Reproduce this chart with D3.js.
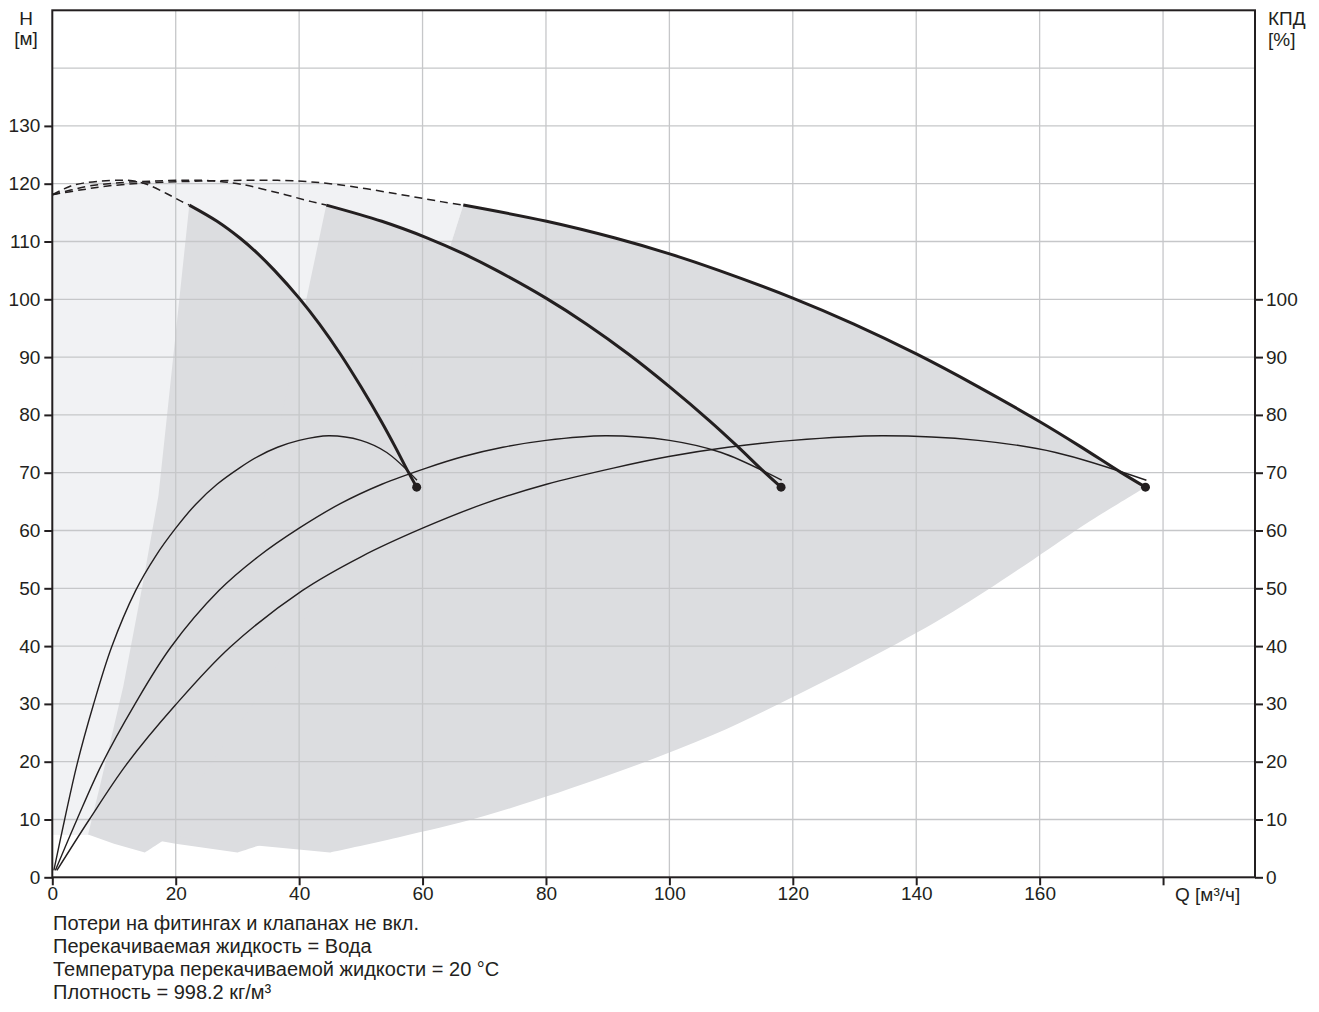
<!DOCTYPE html>
<html><head><meta charset="utf-8">
<script src="https://cdn.jsdelivr.net/npm/d3@7"></script>
<style>
html,body{margin:0;padding:0;background:#fff;}
svg text{font-family:"Liberation Sans",Arial,sans-serif;fill:#231f20;}
</style></head>
<body>
<svg id="chart" width="1319" height="1012"></svg>
<script>
// ---------- data ----------
const qTicks = [0, 20, 40, 60, 80, 100, 120, 140, 160];
const qGrid = [20, 40, 60, 80, 100, 120, 140, 160, 180];
const hTicks = [0, 10, 20, 30, 40, 50, 60, 70, 80, 90, 100, 110, 120, 130];
const hGrid = [10, 20, 30, 40, 50, 60, 70, 80, 90, 100, 110, 120, 130, 140];
const effTicks = [0, 10, 20, 30, 40, 50, 60, 70, 80, 90, 100];
const pumpCounts = [1, 2, 3];

// single pump Q-H curve (m3/h, m); dashed part up to Q = 22.2
const pumpQ = [0, 1.5, 3, 5, 8, 11, 13, 15.3, 18.5, 21, 22.2, 26.7, 30.4, 33.3, 36, 40, 43.3, 46.7, 50, 53.3, 55.5, 57.7, 59.05];
const pumpH = [118.1, 118.9, 119.6, 120.1, 120.45, 120.6, 120.5, 119.9, 118.3, 116.9, 116.3, 113.5, 110.6, 107.9, 105.0, 100.2, 95.7, 90.5, 84.9, 78.9, 74.6, 70.1, 67.5];
const solidStartQ = 22.2;
const endPointH = 67.5;

// single pump efficiency curve (%)
const effQ = [0.25, 2, 4, 6.65, 9.6, 13.5, 16.7, 20, 23.3, 26.7, 30.3, 33.3, 36.5, 40, 44.8, 50, 54.2, 59.1];
const effV = [1.2, 10, 19.5, 29.8, 39.8, 49.6, 55.5, 60.4, 64.6, 68.0, 70.8, 72.8, 74.4, 75.6, 76.4, 75.6, 73.5, 68.7];

// operating zone of single pump: left edge (top -> bottom)
const zoneLeftQ = [22.2, 18.5, 17.2, 14.7, 11.5, 7.7, 5.8];
const zoneLeftH = [116.3, 79, 66, 51, 33, 15.7, 7.4];
// bottom edge (left -> right)
const zoneBottomQ = [5.8, 10, 15];
const zoneBottomH = [7.4, 5.8, 4.3];
// lower-right edge (bottom -> end point)
const zoneRightQ = [15, 18.67, 23.33, 30, 35.67, 40, 44.67, 48.67, 53, 56, 59.05];
const zoneRightH = [4.3, 6.9, 10.6, 17.6, 24.6, 31.2, 38.8, 46, 55, 61.5, 67.5];
const lightBottomH = 7.4;

const notes = [
  "Потери на фитингах и клапанах не вкл.",
  "Перекачиваемая жидкость = Вода",
  "Температура перекачиваемой жидкости = 20 °C",
  "Плотность = 998.2 кг/м³"
];

// ---------- drawing ----------
const svg = d3.select("#chart");
const L = 52.3, R = 1255, T = 10.3, B = 877.3;
const x = d3.scaleLinear().domain([0, 194.9]).range([L, R]);
const y = d3.scaleLinear().domain([0, 150]).range([B, T]);
const ink = "#231f20";
const font = '"Liberation Sans",Arial,sans-serif';

const zip = (a, b) => a.map((v, i) => [v, b[i]]);
const pumpPts = zip(pumpQ, pumpH);
const iSolid = pumpQ.indexOf(solidStartQ);
const dashedPts = pumpPts.slice(0, iSolid + 1);
const solidPts = pumpPts.slice(iSolid);

function curvePath(pts, n) {
  return d3.line().x(d => x(d[0] * n)).y(d => y(d[1])).curve(d3.curveCatmullRom.alpha(0.5))(pts);
}
function linePath(pts, n) {
  return d3.line().x(d => x(d[0] * n)).y(d => y(d[1]))(pts);
}
const asL = s => "L" + s.slice(1);

const gFill = svg.append("g");
// light zones
pumpCounts.forEach(n => {
  const top = curvePath(dashedPts, n);
  const left = linePath(zip(zoneLeftQ, zoneLeftH), n);
  const d = `M${x(0)},${y(lightBottomH)}L${x(0)},${y(pumpH[0])}` + asL(top) + asL(left) + "Z";
  gFill.append("path").attr("d", d).attr("fill", "#f1f2f4");
});
// dark zones
pumpCounts.forEach(n => {
  const top = curvePath(solidPts, n);
  const right = curvePath(zip(zoneRightQ, zoneRightH).reverse(), n);
  const bottom = linePath(zip(zoneBottomQ, zoneBottomH).reverse(), n);
  const left = linePath(zip(zoneLeftQ, zoneLeftH).reverse(), n);
  const d = top + asL(right) + asL(bottom) + asL(left) + "Z";
  gFill.append("path").attr("d", d).attr("fill", "#dcdde0");
});

// grid
const gGrid = svg.append("g").attr("stroke", "#c6c7c9").attr("stroke-width", 1.3);
qGrid.forEach(q => gGrid.append("line").attr("x1", x(q)).attr("x2", x(q)).attr("y1", T).attr("y2", B));
hGrid.forEach(h => gGrid.append("line").attr("x1", L).attr("x2", R).attr("y1", y(h)).attr("y2", y(h)));

// efficiency curves
pumpCounts.forEach(n => {
  svg.append("path").attr("d", curvePath(zip(effQ, effV), n))
    .attr("fill", "none").attr("stroke", ink).attr("stroke-width", 1.4);
});
// pump curves
pumpCounts.forEach(n => {
  svg.append("path").attr("d", curvePath(dashedPts, n))
    .attr("fill", "none").attr("stroke", ink).attr("stroke-width", 1.5).attr("stroke-dasharray", "8,5");
  svg.append("path").attr("d", curvePath(solidPts, n))
    .attr("fill", "none").attr("stroke", ink).attr("stroke-width", 3);
  svg.append("circle").attr("cx", x(pumpQ[pumpQ.length - 1] * n)).attr("cy", y(endPointH))
    .attr("r", 4.5).attr("fill", ink);
});

// frame
svg.append("rect").attr("x", L).attr("y", T).attr("width", R - L).attr("height", B - T)
  .attr("fill", "none").attr("stroke", ink).attr("stroke-width", 2);

// axes
const fs = 19;
const axL = svg.append("g").attr("transform", `translate(${L},0)`)
  .call(d3.axisLeft(y).tickValues(hTicks).tickSize(8).tickPadding(4));
const axR = svg.append("g").attr("transform", `translate(${R},0)`)
  .call(d3.axisRight(y).tickValues(effTicks).tickSize(8).tickPadding(3));
const axB = svg.append("g").attr("transform", `translate(0,${B})`)
  .call(d3.axisBottom(x).tickValues(qTicks.concat([180])).tickSize(8).tickPadding(1)
    .tickFormat(d => d === 180 ? "" : d));
[axL, axR, axB].forEach(a => {
  a.select(".domain").remove();
  a.selectAll("line").attr("stroke", ink).attr("stroke-width", 2);
  a.selectAll("text").attr("font-size", fs).attr("font-family", font).attr("fill", ink);
});

// axis titles
const txt = (s, tx, ty, anchor) => svg.append("text").attr("x", tx).attr("y", ty)
  .attr("font-size", fs).attr("text-anchor", anchor || "start").text(s);
txt("H", 26, 25, "middle");
txt("[м]", 26, 45, "middle");
txt("КПД", 1268, 25);
txt("[%]", 1268, 46);
txt("Q [м³/ч]", 1175, 901);

notes.forEach((s, i) => {
  svg.append("text").attr("x", 53).attr("y", 930 + i * 23).attr("font-size", 20).text(s);
});
</script>
</body></html>
